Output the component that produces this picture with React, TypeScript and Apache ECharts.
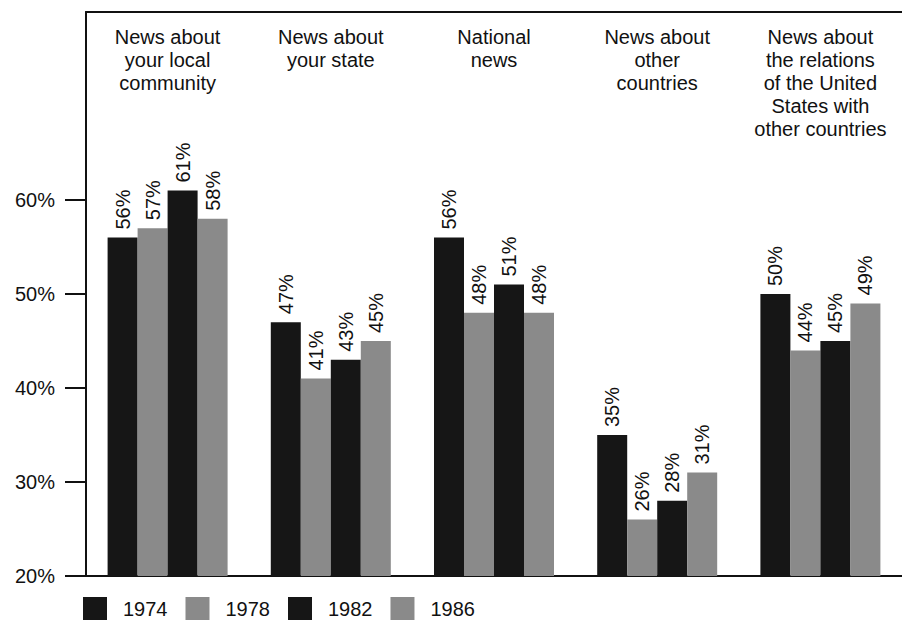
import React, { useEffect, useRef } from "react";
import * as echarts from "echarts";

const categories = [
  "News about\nyour local\ncommunity",
  "News about\nyour state",
  "National\nnews",
  "News about\nother\ncountries",
  "News about\nthe relations\nof the United\nStates with\nother countries",
];
const years = ["1974", "1978", "1982", "1986"];
const values1974 = [56, 47, 56, 35, 50];
const values1978 = [57, 41, 48, 26, 44];
const values1982 = [61, 43, 51, 28, 45];
const values1986 = [58, 45, 48, 31, 49];
const yTicks = [20, 30, 40, 50, 60];

const FONT = "'Liberation Sans', Arial, Helvetica, sans-serif";
const DARK = "#161616";
const GRAY = "#8a8a8a";
const colors = [DARK, GRAY, DARK, GRAY];
const GRID_LEFT = 86;
const TICK_LEN = 21;

export default function App() {
  const ref = useRef<HTMLDivElement>(null);

  useEffect(() => {
    if (!ref.current) return;
    const chart = echarts.init(ref.current, undefined, { renderer: "svg" });
    const seriesData = [values1974, values1978, values1982, values1986];

    chart.setOption({
      animation: false,
      backgroundColor: "#ffffff",
      textStyle: { fontFamily: FONT },
      grid: { left: GRID_LEFT, top: 12, bottom: 46, right: -5, containLabel: false },
      legend: {
        data: years,
        left: 83,
        top: 597,
        padding: 0,
        icon: "rect",
        itemWidth: 24,
        itemHeight: 23,
        itemGap: 18,
        textStyle: {
          fontSize: 20,
          lineHeight: 22,
          color: "#111",
          fontFamily: FONT,
          padding: [0, 0, 0, 11],
        },
      },
      xAxis: [
        {
          type: "category",
          data: categories,
          position: "bottom",
          axisLine: { show: true, lineStyle: { color: "#111", width: 2 } },
          axisTick: { show: false },
          axisLabel: { show: false },
        },
        {
          type: "category",
          data: categories,
          position: "top",
          axisLine: { show: true, onZero: false, lineStyle: { color: "#111", width: 2 } },
          axisTick: { show: false },
          axisLabel: {
            inside: true,
            interval: 0,
            margin: 13,
            fontSize: 20,
            lineHeight: 23,
            color: "#111",
            fontFamily: FONT,
            verticalAlign: "top",
            align: "center",
          },
        },
      ],
      yAxis: {
        type: "value",
        min: 20,
        max: 80,
        interval: 10,
        splitLine: { show: false },
        axisLine: { show: true, lineStyle: { color: "#111", width: 2 } },
        axisTick: { show: false },
        axisLabel: {
          customValues: yTicks,
          margin: 31,
          fontSize: 20,
          color: "#111",
          fontFamily: FONT,
          formatter: (v: number) => `${v}%`,
        },
      },
      series: years.map((y, i) => ({
        name: y,
        type: "bar",
        xAxisIndex: 0,
        data: seriesData[i],
        barWidth: 30,
        barGap: "0%",
        itemStyle: { color: colors[i] },
        label: {
          show: true,
          position: "top",
          rotate: 90,
          align: "left",
          verticalAlign: "middle",
          distance: 8,
          fontSize: 20,
          color: "#111",
          fontFamily: FONT,
          formatter: (p: any) => `${p.value}%`,
        },
      })),
    });

    // Outward tick marks on the value axis, only at the labelled values
    chart.setOption({
      graphic: yTicks.map((v) => {
        const py = chart.convertToPixel({ yAxisIndex: 0 }, v) as number;
        return {
          type: "line",
          silent: true,
          shape: { x1: GRID_LEFT - TICK_LEN, y1: py, x2: GRID_LEFT, y2: py },
          style: { stroke: "#111", lineWidth: 2 },
        };
      }),
    });

    return () => chart.dispose();
  }, []);

  return (
    <div
      ref={ref}
      style={{ width: 902, height: 622, position: "absolute", left: 0, top: 0 }}
    />
  );
}
